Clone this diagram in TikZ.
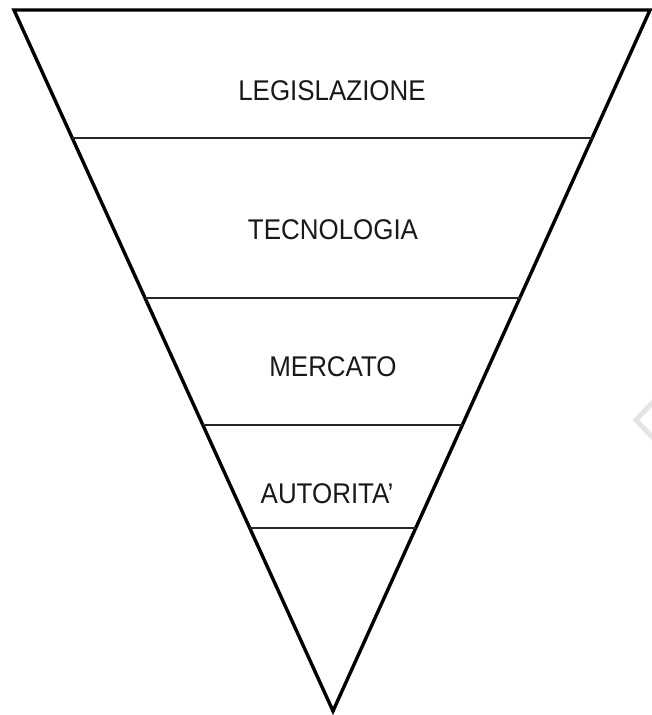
\documentclass[tikz,border=0pt]{standalone}
\usepackage{fontspec}
\setmainfont{Liberation Sans}
\begin{document}
\begin{tikzpicture}[x=1pt,y=-1pt,
  layer/.style={line width=1.3pt, draw=black!85},
  label/.style={font=\fontsize{28.5}{31}\selectfont, text=black!90, inner sep=0pt}]
\useasboundingbox (0,0) rectangle (652,715);
\coordinate (tl) at (14,10);
\coordinate (tr) at (650,10);
\coordinate (ap) at (333,711);
\draw[line width=3.4pt, line join=miter] (tl) -- (tr) -- (ap) -- cycle;
% horizontal dividers
\coordinate (l1a) at (72,138); \coordinate (l1b) at (593,138);
\coordinate (l2a) at (145,298); \coordinate (l2b) at (521,298);
\coordinate (l3a) at (203,425); \coordinate (l3b) at (463,425);
\coordinate (l4a) at (250,528); \coordinate (l4b) at (416,528);
\draw[layer] (l1a) -- (l1b);
\draw[layer] (l2a) -- (l2b);
\draw[layer] (l3a) -- (l3b);
\draw[layer] (l4a) -- (l4b);
% labels
\node[label] (legis) at (332,91) {\scalebox{0.91}[1]{LEGISLAZIONE}};
\node[label] (tecno) at (333,230) {\scalebox{0.91}[1]{TECNOLOGIA}};
\node[label] (merc) at (333,367) {\scalebox{0.91}[1]{MERCATO}};
\node[label] (auto) at (327,494) {\scalebox{0.91}[1]{AUTORITA'}};
% faint grey chevron at right edge
\coordinate (c1) at (655,400);
\coordinate (c2) at (636,420);
\coordinate (c3) at (655,440);
\draw[line width=5pt, draw=black!10, line join=miter] (c1) -- (c2) -- (c3);
\end{tikzpicture}
\end{document}
